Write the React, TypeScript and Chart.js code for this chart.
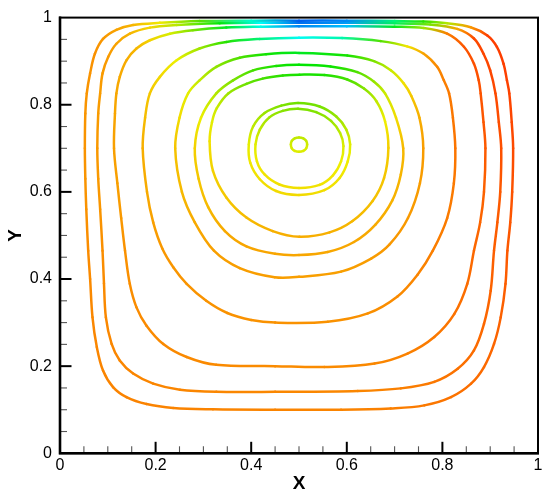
import { useEffect, useRef } from 'react';
import { Chart, registerables } from 'chart.js';

Chart.register(...registerables);

// ---- Axis text ----
const xTickLabels = ['0', '0.2', '0.4', '0.6', '0.8', '1'];
const yTickLabels = ['0', '0.2', '0.4', '0.6', '0.8', '1'];
const xTitle = 'X';
const yTitle = 'Y';

// ---- Streamlines (closed curves), [x, y] ----
const ring1: [number, number][] = [
  [0.052, 0.700], [0.053, 0.780], [0.056, 0.826], [0.063, 0.872], [0.073, 0.917], [0.090, 0.951],
  [0.118, 0.972], [0.153, 0.983], [0.209, 0.988], [0.292, 0.992], [0.400, 0.993], [0.500, 0.993],
  [0.600, 0.993], [0.700, 0.992], [0.760, 0.991], [0.810, 0.987], [0.859, 0.978], [0.894, 0.959],
  [0.914, 0.933], [0.928, 0.894], [0.935, 0.856], [0.940, 0.826], [0.945, 0.760], [0.948, 0.700],
  [0.946, 0.600], [0.942, 0.530], [0.936, 0.465], [0.932, 0.389], [0.922, 0.312], [0.908, 0.251],
  [0.887, 0.198], [0.860, 0.160], [0.818, 0.129], [0.762, 0.110], [0.692, 0.103], [0.588, 0.100],
  [0.450, 0.100], [0.320, 0.101], [0.237, 0.104], [0.181, 0.113], [0.139, 0.129], [0.111, 0.152],
  [0.090, 0.190], [0.077, 0.244], [0.068, 0.312], [0.063, 0.400], [0.059, 0.465], [0.055, 0.560],
  [0.053, 0.630], [0.052, 0.700],
];
const ring2: [number, number][] = [
  [0.078, 0.700], [0.080, 0.780], [0.084, 0.826], [0.089, 0.872], [0.101, 0.910], [0.118, 0.940],
  [0.146, 0.963], [0.188, 0.977], [0.244, 0.983], [0.334, 0.987], [0.420, 0.988], [0.500, 0.988],
  [0.600, 0.988], [0.700, 0.987], [0.775, 0.984], [0.831, 0.974], [0.866, 0.952], [0.886, 0.917],
  [0.900, 0.879], [0.911, 0.826], [0.918, 0.760], [0.923, 0.700], [0.921, 0.600], [0.915, 0.530],
  [0.908, 0.465], [0.901, 0.373], [0.887, 0.297], [0.866, 0.236], [0.832, 0.194], [0.783, 0.164],
  [0.713, 0.149], [0.623, 0.143], [0.450, 0.141], [0.327, 0.141], [0.251, 0.146], [0.195, 0.160],
  [0.153, 0.183], [0.125, 0.213], [0.108, 0.251], [0.096, 0.312], [0.092, 0.390], [0.089, 0.465],
  [0.084, 0.560], [0.080, 0.630], [0.078, 0.700],
];
const ring3: [number, number][] = [
  [0.113, 0.700], [0.115, 0.780], [0.118, 0.826], [0.125, 0.864], [0.139, 0.902], [0.160, 0.929],
  [0.188, 0.948], [0.230, 0.963], [0.278, 0.971], [0.348, 0.977], [0.420, 0.979], [0.500, 0.980],
  [0.600, 0.980], [0.700, 0.979], [0.761, 0.976], [0.810, 0.963], [0.845, 0.933], [0.866, 0.894],
  [0.876, 0.856], [0.880, 0.826], [0.886, 0.760], [0.890, 0.700], [0.887, 0.600], [0.879, 0.530],
  [0.866, 0.465], [0.852, 0.389], [0.825, 0.320], [0.783, 0.267], [0.727, 0.229], [0.658, 0.206],
  [0.553, 0.198], [0.450, 0.200], [0.327, 0.203], [0.265, 0.221], [0.216, 0.251], [0.181, 0.293],
  [0.160, 0.335], [0.146, 0.389], [0.136, 0.465], [0.128, 0.540], [0.120, 0.620], [0.113, 0.700],
];
const ring4: [number, number][] = [
  [0.173, 0.700], [0.178, 0.770], [0.188, 0.826], [0.209, 0.864], [0.244, 0.902], [0.292, 0.929],
  [0.348, 0.944], [0.418, 0.951], [0.500, 0.954], [0.590, 0.953], [0.671, 0.946], [0.726, 0.934],
  [0.761, 0.917], [0.789, 0.887], [0.803, 0.856], [0.814, 0.826], [0.822, 0.770], [0.827, 0.700],
  [0.824, 0.620], [0.810, 0.540], [0.780, 0.465], [0.748, 0.410], [0.706, 0.360], [0.644, 0.321],
  [0.560, 0.302], [0.450, 0.300], [0.400, 0.306], [0.350, 0.322], [0.306, 0.350], [0.265, 0.389],
  [0.237, 0.427], [0.214, 0.470], [0.195, 0.530], [0.182, 0.600], [0.173, 0.700],
];
const ring5: [number, number][] = [
  [0.241, 0.700], [0.250, 0.770], [0.268, 0.826], [0.292, 0.856], [0.327, 0.887], [0.376, 0.908],
  [0.431, 0.916], [0.500, 0.919], [0.601, 0.913], [0.657, 0.900], [0.692, 0.879], [0.719, 0.849],
  [0.735, 0.820], [0.752, 0.770], [0.760, 0.700], [0.753, 0.620], [0.728, 0.540], [0.690, 0.480],
  [0.651, 0.447], [0.588, 0.417], [0.500, 0.405], [0.449, 0.404], [0.376, 0.425], [0.322, 0.465],
  [0.282, 0.530], [0.255, 0.600], [0.241, 0.700],
];
const ring6: [number, number][] = [
  [0.282, 0.700], [0.295, 0.770], [0.327, 0.826], [0.362, 0.856], [0.404, 0.879], [0.452, 0.889],
  [0.500, 0.892], [0.566, 0.888], [0.622, 0.875], [0.657, 0.853], [0.680, 0.826], [0.703, 0.770],
  [0.718, 0.700], [0.713, 0.640], [0.695, 0.580], [0.660, 0.525], [0.615, 0.485], [0.560, 0.462],
  [0.500, 0.455], [0.450, 0.458], [0.390, 0.475], [0.345, 0.510], [0.310, 0.565], [0.290, 0.630],
  [0.282, 0.700],
];
const ring7: [number, number][] = [
  [0.313, 0.716], [0.318, 0.760], [0.328, 0.792], [0.352, 0.826], [0.390, 0.848], [0.424, 0.860],
  [0.466, 0.867], [0.501, 0.869], [0.553, 0.868], [0.601, 0.858], [0.636, 0.837], [0.662, 0.808],
  [0.680, 0.762], [0.687, 0.701], [0.678, 0.632], [0.654, 0.579], [0.612, 0.533], [0.564, 0.507],
  [0.501, 0.497], [0.445, 0.510], [0.390, 0.541], [0.348, 0.587], [0.320, 0.648], [0.313, 0.716],
];
const ring8: [number, number][] = [
  [0.395, 0.709], [0.404, 0.750], [0.428, 0.781], [0.463, 0.798], [0.498, 0.804], [0.543, 0.796],
  [0.578, 0.773], [0.599, 0.743], [0.607, 0.709], [0.602, 0.670], [0.585, 0.632], [0.553, 0.604],
  [0.500, 0.593], [0.452, 0.602], [0.418, 0.629], [0.398, 0.667], [0.395, 0.709],
];
const ring9: [number, number][] = [
  [0.409, 0.709], [0.418, 0.743], [0.438, 0.771], [0.466, 0.786], [0.498, 0.791], [0.536, 0.783],
  [0.567, 0.763], [0.586, 0.735], [0.593, 0.705], [0.588, 0.670], [0.571, 0.638], [0.543, 0.616],
  [0.500, 0.609], [0.459, 0.617], [0.428, 0.640], [0.412, 0.670], [0.409, 0.709],
];
const eye: [number, number][] = [
  [0.483, 0.709], [0.485, 0.717], [0.491, 0.723], [0.500, 0.725], [0.509, 0.723], [0.515, 0.717],
  [0.517, 0.709], [0.515, 0.700], [0.509, 0.694], [0.500, 0.692], [0.491, 0.694], [0.485, 0.700],
  [0.483, 0.709],
];

const streamlines = [ring1, ring2, ring3, ring4, ring5, ring6, ring7, ring8, ring9, eye];

// ---- Colour map (style): hue as a function of position ----
const HUE_Y = [0, 0.3, 0.4, 0.5, 0.6, 0.7, 0.8, 0.87, 0.92, 0.954, 0.98, 1];
const HUE_H = [30, 35, 38, 42, 55, 65, 90, 115, 130, 180, 210, 224];

function lerpTable(v: number, xs: number[], ys: number[]) {
  if (v <= xs[0]) return ys[0];
  for (let i = 1; i < xs.length; i++) {
    if (v <= xs[i]) {
      const t = (v - xs[i - 1]) / (xs[i] - xs[i - 1]);
      return ys[i - 1] + t * (ys[i] - ys[i - 1]);
    }
  }
  return ys[ys.length - 1];
}

function colorAt(x: number, y: number) {
  const T = lerpTable(y, HUE_Y, HUE_H);
  const d = x - 0.53;
  const sL = 0.23 + 0.4 * (1 - y);
  const sR = 0.16 + 0.3 * (1 - y) + 0.1 * Math.min(1, Math.max(0, (y - 0.96) / 0.03));
  const s = d < 0 ? sL : sR;
  const w = Math.exp(-((d / s) ** 2));
  const R = 18 * (1 - Math.exp(-Math.max(0, x - 0.58) / 0.1)) * (0.6 + 0.4 * y);
  const h = 30 + (T - 30) * w - R * (1 - w);
  const l = 50 - 6 * Math.exp(-(((h - 100) / 50) ** 2)) - 4 * Math.max(0, Math.min(1, (h - 190) / 30));
  return `hsl(${h.toFixed(1)},100%,${l.toFixed(1)}%)`;
}

const FONT = "'Liberation Sans', Arial, Helvetica, sans-serif";

const axisFrame = {
  id: 'axisFrame',
  afterDraw(chart: any) {
    const { ctx, chartArea: a, scales } = chart;
    ctx.save();
    for (let i = 1; i < 20; i++) {
      const v = i * 0.05;
      const major = i % 4 === 0;
      const len = major ? 11.5 : 7;
      ctx.strokeStyle = major ? '#000' : '#555';
      ctx.lineWidth = major ? 2 : 1.1;
      const px = scales.x.getPixelForValue(v);
      ctx.beginPath();
      ctx.moveTo(px, a.bottom);
      ctx.lineTo(px, a.bottom - len);
      ctx.stroke();
      const py = scales.y.getPixelForValue(v);
      ctx.beginPath();
      ctx.moveTo(a.left, py);
      ctx.lineTo(a.left + len, py);
      ctx.stroke();
    }
    ctx.strokeStyle = '#000';
    ctx.lineWidth = 2;
    ctx.strokeRect(a.left, a.top, a.right - a.left, a.bottom - a.top);
    ctx.lineWidth = 2.6;
    ctx.beginPath();
    ctx.moveTo(a.left, a.top - 1);
    ctx.lineTo(a.left, a.bottom);
    ctx.lineTo(a.right + 1, a.bottom);
    ctx.stroke();
    ctx.restore();
  },
};

export default function App() {
  const canvasRef = useRef<HTMLCanvasElement | null>(null);

  useEffect(() => {
    if (!canvasRef.current) return;
    const datasets = streamlines.map((pts, i) => {
      // wrap one point on each side so the closed curve is smooth at its seam;
      // the two wrap segments are not drawn
      const n = pts.length;
      const wrapped = [pts[n - 2], ...pts, pts[1]];
      const last = wrapped.length - 1;
      return {
        label: 'streamline ' + (i + 1),
        data: wrapped.map(([x, y]) => ({ x, y })),
        showLine: true,
        tension: 0.35,
        pointRadius: 0,
        borderWidth: 2.5,
        borderCapStyle: 'round' as const,
        borderJoinStyle: 'round' as const,
        borderColor: '#ff8000',
        fill: false,
        segment: {
          borderColor: (c: any) => {
            if (c.p0DataIndex === 0 || c.p1DataIndex === last) return 'rgba(0,0,0,0)';
            const ch = c.chart;
            const sx = ch.scales.x;
            const sy = ch.scales.y;
            const p0 = c.p0;
            const p1 = c.p1;
            const g = ch.ctx.createLinearGradient(p0.x, p0.y, p1.x, p1.y);
            g.addColorStop(0, colorAt(sx.getValueForPixel(p0.x), sy.getValueForPixel(p0.y)));
            g.addColorStop(1, colorAt(sx.getValueForPixel(p1.x), sy.getValueForPixel(p1.y)));
            return g;
          },
        },
      };
    });

    const chart = new Chart(canvasRef.current, {
      type: 'scatter',
      data: { datasets },
      options: {
        animation: false,
        responsive: false,
        devicePixelRatio: 1,
        events: [],
        layout: { padding: { top: 16, right: 12, left: 0, bottom: 0 } },
        plugins: { legend: { display: false }, tooltip: { enabled: false } },
        scales: {
          x: {
            type: 'linear',
            min: 0,
            max: 1,
            grid: { display: false, drawTicks: false },
            border: { display: false },
            ticks: {
              stepSize: 0.2,
              autoSkip: false,
              maxRotation: 0,
              padding: 3,
              color: '#000',
              font: { family: FONT, size: 16 },
              callback: (v: any) => xTickLabels[Math.round(Number(v) / 0.2)] ?? '',
            },
            title: {
              display: true,
              text: xTitle,
              color: '#000',
              font: { family: FONT, size: 19, weight: 'bold' },
              padding: { top: 0, bottom: 6 },
            },
            afterFit: (s: any) => {
              s.height = 47.7;
            },
          },
          y: {
            type: 'linear',
            min: 0,
            max: 1,
            grid: { display: false, drawTicks: false },
            border: { display: false },
            ticks: {
              stepSize: 0.2,
              autoSkip: false,
              padding: 8,
              color: '#000',
              font: { family: FONT, size: 16 },
              callback: (v: any) => yTickLabels[Math.round(Number(v) / 0.2)] ?? '',
            },
            title: {
              display: true,
              text: yTitle,
              color: '#000',
              font: { family: FONT, size: 19, weight: 'bold' },
              padding: { top: 4, bottom: 0 },
            },
            afterFit: (s: any) => {
              s.width = 60;
            },
          },
        },
      },
      plugins: [axisFrame],
    } as any);

    return () => chart.destroy();
  }, []);

  return (
    <div style={{ position: 'fixed', left: 0, top: 0, width: 550, height: 501, background: '#fff' }}>
      <canvas ref={canvasRef} width={550} height={501} style={{ display: 'block' }} />
    </div>
  );
}
